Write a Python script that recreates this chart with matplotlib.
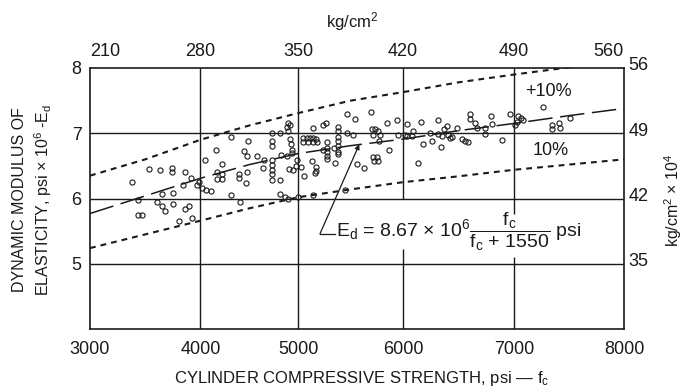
import numpy as np
import matplotlib
matplotlib.use('Agg')
import matplotlib.pyplot as plt
from matplotlib.transforms import ScaledTranslation

plt.rcParams['font.family'] = ['Liberation Sans', 'DejaVu Sans']
plt.rcParams['mathtext.fontset'] = 'custom'
plt.rcParams['mathtext.rm'] = 'Liberation Sans'
plt.rcParams['mathtext.it'] = 'Liberation Sans:italic'
plt.rcParams['mathtext.sf'] = 'Liberation Sans'

# ---------------- data ----------------
x_ticks = [3000, 4000, 5000, 6000, 7000, 8000]
x_top_labels = ['210', '280', '350', '420', '490', '560']
y_ticks = [5, 6, 7, 8]
y_left_labels = ['5', '6', '7', '8']
y_right_labels = ['35', '42', '49', '56']

curve_fc = [3000, 3500, 4000, 4500, 5000, 5500, 6000, 6500, 7000, 7500, 8000]
mean_ed = [5.77, 6.04, 6.31, 6.52, 6.69, 6.81, 6.91, 7.04, 7.15, 7.27, 7.38]
upper_ed = [6.35, 6.60, 6.90, 7.12, 7.31, 7.50, 7.63, 7.78, 7.90, 8.01, 8.10]
lower_ed = [5.24, 5.45, 5.66, 5.85, 6.02, 6.14, 6.25, 6.34, 6.44, 6.52, 6.60]

test_fc = [3377, 3537, 3634, 3739, 3745, 3860, 3911, 3986, 3971, 4012,
           4056, 4104, 4046, 4155, 4165, 4168, 3839, 3649, 3754, 3437,
           3609, 3649, 3679, 3754, 3860, 3899, 3437, 3468, 3808, 3920,
           4890, 4880, 4913, 4890, 4811, 4727, 4733, 4733, 4913, 4920,
           4931, 4931, 4311, 4482, 4447, 4471, 4573, 4651, 4727, 4733,
           4733, 4727, 4641, 4821, 4880, 4982, 4971, 5024, 4903, 4947,
           5055, 5046, 5078, 5110, 5142, 5046, 5091, 5142, 5132, 4222,
           4222, 4216, 4393, 4393, 4471, 4461, 4727, 4811, 4311, 4403,
           4811, 4862, 4896, 4998, 5142, 5445, 5158, 5461, 5541, 5691,
           5232, 5263, 5142, 5381, 5381, 5381, 5381, 5381, 5381, 5381,
           5461, 5524, 5167, 5174, 5276, 5273, 5273, 5273, 5273, 5237,
           5340, 5167, 5167, 5349, 5700, 5732, 5716, 5764, 5780, 5773,
           5844, 5945, 5869, 5716, 5748, 5722, 5764, 5557, 5627, 5955,
           6018, 6033, 6162, 6318, 6394, 6372, 6484, 6604, 6604, 6649,
           6664, 6739, 6739, 6793, 6805, 6093, 6078, 6033, 6243, 6318,
           6349, 6408, 6423, 6441, 6529, 6559, 6588, 6183, 6259, 6342,
           6138, 7266, 6964, 7039, 7061, 7085, 7009, 7025, 7343, 7343,
           7412, 7418, 7509, 6889]
test_ed = [6.26, 6.45, 6.44, 6.47, 6.40, 6.41, 6.32, 6.26, 6.21, 6.16,
           6.13, 6.12, 6.59, 6.74, 6.40, 6.30, 6.21, 6.07, 6.09, 5.98,
           5.95, 5.88, 5.81, 5.92, 5.84, 5.89, 5.75, 5.75, 5.66, 5.70,
           7.16, 7.10, 7.12, 7.03, 7.00, 7.00, 6.88, 6.81, 6.91, 6.83,
           6.75, 6.69, 6.94, 6.88, 6.73, 6.65, 6.65, 6.59, 6.59, 6.51,
           6.44, 6.37, 6.46, 6.66, 6.65, 6.59, 6.50, 6.49, 6.45, 6.43,
           6.35, 6.92, 6.92, 6.93, 6.93, 6.86, 6.86, 6.86, 6.58, 6.53,
           6.37, 6.30, 6.37, 6.31, 6.40, 6.24, 6.29, 6.29, 6.05, 5.94,
           6.07, 6.03, 6.00, 6.02, 6.05, 6.13, 6.39, 7.30, 7.22, 7.32,
           7.13, 7.15, 7.08, 7.10, 7.03, 6.95, 6.88, 6.80, 6.72, 6.68,
           7.01, 6.97, 6.91, 6.86, 6.86, 6.77, 6.71, 6.65, 6.60, 6.75,
           6.78, 6.48, 6.42, 6.55, 7.06, 7.06, 6.98, 7.03, 6.98, 6.88,
           7.15, 7.21, 6.75, 6.63, 6.63, 6.58, 6.58, 6.53, 6.46, 6.98,
           6.98, 7.14, 7.17, 7.21, 7.11, 7.06, 7.08, 7.29, 7.22, 7.16,
           7.08, 7.08, 6.99, 7.26, 7.14, 7.03, 6.96, 6.96, 7.01, 6.99,
           6.96, 6.97, 6.93, 6.95, 6.91, 6.88, 6.87, 6.83, 6.88, 6.79,
           6.55, 7.40, 7.29, 7.27, 7.24, 7.20, 7.13, 7.17, 7.13, 7.07,
           7.15, 7.08, 7.24, 6.90]

equation = (r'E$_\mathrm{d}$ = 8.67 $\times$ 10$^\mathrm{6}$'
            r'$\dfrac{\mathrm{f_c}}{\mathrm{f_c}\ \mathrm{+}\ \mathrm{1550}}$ psi')

# ---------------- style / layout ----------------
# the printed grid of the original is drawn slightly unevenly: fractions of the
# frame width at which the labelled grid lines sit
grid_frac = [0.0, 0.2069, 0.3904, 0.5861, 0.7940, 1.0]


def fwd(v):
    v = np.asarray(v, dtype=float)
    out = np.interp(v, x_ticks, grid_frac)
    s0 = (grid_frac[1] - grid_frac[0]) / (x_ticks[1] - x_ticks[0])
    s1 = (grid_frac[-1] - grid_frac[-2]) / (x_ticks[-1] - x_ticks[-2])
    out = np.where(v < x_ticks[0], grid_frac[0] + (v - x_ticks[0]) * s0, out)
    out = np.where(v > x_ticks[-1], grid_frac[-1] + (v - x_ticks[-1]) * s1, out)
    return out


def inv(f):
    f = np.asarray(f, dtype=float)
    out = np.interp(f, grid_frac, x_ticks)
    s0 = (x_ticks[1] - x_ticks[0]) / (grid_frac[1] - grid_frac[0])
    s1 = (x_ticks[-1] - x_ticks[-2]) / (grid_frac[-1] - grid_frac[-2])
    out = np.where(f < grid_frac[0], x_ticks[0] + (f - grid_frac[0]) * s0, out)
    out = np.where(f > grid_frac[-1], x_ticks[-1] + (f - grid_frac[-1]) * s1, out)
    return out


ink = '#1a1a1a'
W, H = 684, 388
fig = plt.figure(figsize=(W / 100, H / 100), dpi=100)
L, R, T, B = 90, 624, 68, 329
ax = fig.add_axes([L / W, 1 - B / H, (R - L) / W, (B - T) / H])
ax.set_xscale('function', functions=(fwd, inv))
ax.set_xlim(x_ticks[0], x_ticks[-1])
ax.set_ylim(4, 8)

# grid lines (the 6000 and 7000 lines are broken around the equation)
gap_x = {6000: (5.23, 6.0), 7000: (5.11, 5.76)}
for xv in x_ticks[1:-1]:
    if xv in gap_x:
        lo, hi = gap_x[xv]
        ax.vlines(xv, 4, lo, color=ink, lw=1.0, zorder=1)
        ax.vlines(xv, hi, 8, color=ink, lw=1.0, zorder=1)
    else:
        ax.vlines(xv, 4, 8, color=ink, lw=1.0, zorder=1)
for yv in y_ticks[:-1]:
    ax.hlines(yv, x_ticks[0], x_ticks[-1], color=ink, lw=1.0, zorder=1)

# curves
ax.plot(curve_fc, mean_ed, color=ink, lw=1.1, linestyle=(0, (16, 5)), zorder=3)
ax.plot(curve_fc, upper_ed, color=ink, lw=1.5, linestyle=(0, (2.8, 2.4)), zorder=3)
ax.plot(curve_fc, lower_ed, color=ink, lw=1.5, linestyle=(0, (2.8, 2.4)), zorder=3)

# test points
ax.plot(test_fc, test_ed, 'o', ms=3.7, mfc='none', mec=ink, mew=0.8, zorder=4)

# annotations
ax.text(7309, 7.635, '+10%', fontsize=13, ha='center', va='center', color=ink)
ax.text(7337, 6.73, '10%', fontsize=13, ha='center', va='center', color=ink)
ax.text(5360, 5.49, equation, fontsize=14, ha='left', va='center', color=ink)
ax.plot([5206, 5349], [5.46, 5.46], color=ink, lw=0.9, zorder=3)
ax.annotate('', xy=(5582, 6.83), xytext=(5206, 5.46),
            arrowprops=dict(arrowstyle='-|>', lw=0.9, color=ink,
                            mutation_scale=7, shrinkA=0, shrinkB=0), zorder=3)

# frame and ticks
for sp in ax.spines.values():
    sp.set_linewidth(1.2)
    sp.set_color(ink)
ax.set_xticks(x_ticks)
ax.set_xticklabels([str(v) for v in x_ticks])
ax.set_yticks(y_ticks)
ax.set_yticklabels(y_left_labels)
ax.tick_params(axis='x', length=0, pad=9, labelsize=13, colors=ink)
ax.tick_params(axis='y', length=0, pad=6, labelsize=13, colors=ink)
ax.minorticks_off()

ax_top = ax.twiny()
ax_top.set_xscale('function', functions=(fwd, inv))
ax_top.set_xlim(x_ticks[0], x_ticks[-1])
ax_top.set_xticks(x_ticks)
ax_top.set_xticklabels(x_top_labels)
ax_top.tick_params(axis='x', length=0, pad=6, labelsize=13, colors=ink)
ax_top.minorticks_off()
tl = ax_top.get_xticklabels()
tl[0].set_ha('left')
tl[-1].set_ha('right')
for sp in ax_top.spines.values():
    sp.set_visible(False)

ax_r = ax.twinx()
ax_r.set_ylim(4, 8)
ax_r.set_yticks(y_ticks)
ax_r.set_yticklabels(y_right_labels)
ax_r.tick_params(axis='y', length=0, pad=3, labelsize=13, colors=ink)
for lab in ax_r.get_yticklabels():
    lab.set_transform(lab.get_transform() + ScaledTranslation(0, 3 / 72, fig.dpi_scale_trans))
for sp in ax_r.spines.values():
    sp.set_visible(False)

# axis titles
fig.text(352 / W, 1 - 22 / H, 'kg/cm$^\\mathrm{2}$', fontsize=12, ha='center', va='center', color=ink)
fig.text(362 / W, 1 - 378 / H, r'CYLINDER COMPRESSIVE STRENGTH, psi — f$_\mathrm{c}$',
         fontsize=12, ha='center', va='center', color=ink)
fig.text(33 / W, 1 - 200 / H, 'DYNAMIC MODULUS OF\nELASTICITY, psi $\\times$ 10$^\\mathrm{6}$ -E$_\\mathrm{d}$',
         fontsize=11.5, rotation=90, ha='center', va='center', multialignment='center',
         linespacing=1.3, color=ink)
fig.text(673 / W, 1 - 200 / H, 'kg/cm$^\\mathrm{2}$ $\\times$ 10$^\\mathrm{4}$',
         fontsize=11.5, rotation=90, ha='center', va='center', color=ink)

fig.savefig('out.png', dpi=100)
